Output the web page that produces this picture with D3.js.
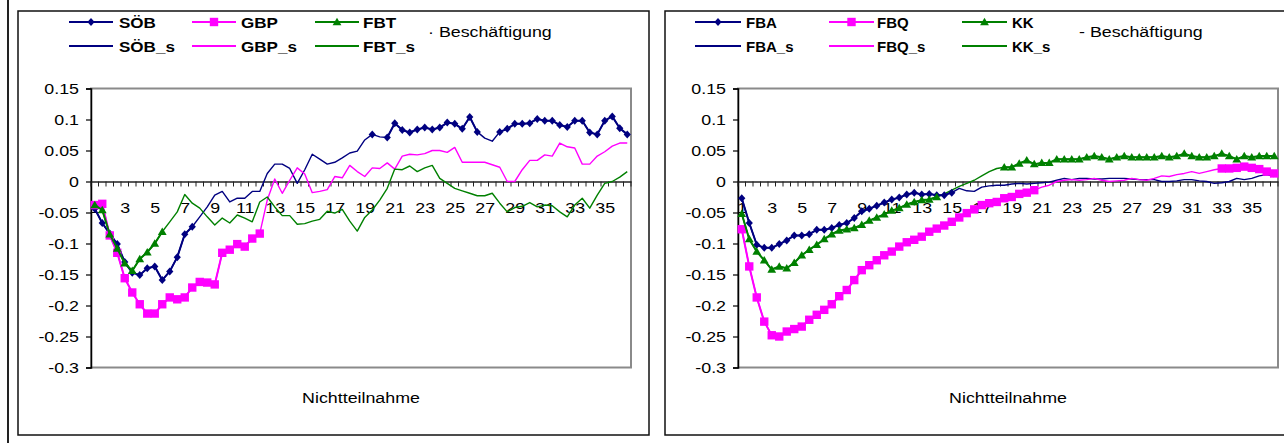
<!DOCTYPE html>
<html><head><meta charset="utf-8">
<script src="https://cdn.jsdelivr.net/npm/d3@7"></script>
<style>
body{margin:0;background:#fff}
svg{display:block}
text{font-family:"Liberation Sans",Arial,sans-serif;fill:#000}
</style></head>
<body><svg id="c" width="1284" height="443"></svg>
<script>
// ---------- data ----------
const categories = [1,1.5,2,2.5,3,3.5,4,4.5,5,5.5,6,6.5,7,7.5,8,8.5,9,9.5,10,10.5,11,11.5,12,12.5,13,13.5,14,14.5,15,15.5,16,16.5,17,17.5,18,18.5,19,19.5,20,20.5,21,21.5,22,22.5,23,23.5,24,24.5,25,25.5,26,26.5,27,27.5,28,28.5,29,29.5,30,30.5,31,31.5,32,32.5,33,33.5,34,34.5,35,35.5,36,36.5];
const xTickLabels = [1,3,5,7,9,11,13,15,17,19,21,23,25,27,29,31,33,35];
const yTicks = [0.15,0.1,0.05,0,-0.05,-0.1,-0.15,-0.2,-0.25,-0.3];
const yTickLabels = ["0.15","0.1","0.05","0","-0.05","-0.1","-0.15","-0.2","-0.25","-0.3"];

// left chart
const SOEB_s = [-0.044,-0.067,-0.084,-0.101,-0.13,-0.147,-0.151,-0.14,-0.137,-0.159,-0.145,-0.122,-0.085,-0.073,-0.057,-0.041,-0.022,-0.016,-0.033,-0.027,-0.027,-0.016,-0.016,0.013,0.028,0.028,0.021,-0.003,0.019,0.044,0.036,0.028,0.031,0.038,0.046,0.049,0.067,0.076,0.072,0.071,0.094,0.083,0.079,0.084,0.087,0.084,0.087,0.095,0.093,0.085,0.104,0.08,0.07,0.065,0.08,0.085,0.093,0.093,0.094,0.101,0.098,0.098,0.091,0.088,0.098,0.098,0.079,0.076,0.098,0.105,0.086,0.076];
const SOEB = [-0.044,-0.067,-0.084,-0.101,-0.13,-0.147,-0.151,-0.14,-0.137,-0.159,-0.145,-0.122,-0.085,-0.073,null,null,null,null,null,null,null,null,null,null,null,null,null,null,null,null,null,null,null,null,null,null,null,0.076,null,0.071,0.094,0.083,0.079,0.084,0.087,0.084,0.087,0.095,0.093,0.085,0.104,0.08,null,null,0.08,0.085,0.093,0.093,0.094,0.101,0.098,0.098,0.091,0.088,0.098,0.098,0.079,0.076,0.098,0.105,0.086,0.076];
const GBP_s = [-0.038,-0.036,-0.087,-0.115,-0.156,-0.179,-0.198,-0.213,-0.213,-0.198,-0.187,-0.19,-0.187,-0.171,-0.162,-0.163,-0.166,-0.115,-0.11,-0.101,-0.105,-0.092,-0.084,-0.03,0.004,-0.019,0.002,0.022,0.012,-0.018,-0.016,-0.013,0.008,0.006,0.026,0.016,0.008,0.022,0.021,0.03,0.02,0.041,0.044,0.043,0.045,0.05,0.05,0.047,0.055,0.031,0.031,0.031,0.031,0.027,0.023,0.0,0.0,0.019,0.034,0.034,0.043,0.041,0.062,0.056,0.054,0.028,0.028,0.041,0.048,0.057,0.062,0.062];
const GBP = [-0.038,-0.036,-0.087,-0.115,-0.156,-0.179,-0.198,-0.213,-0.213,-0.198,-0.187,-0.19,-0.187,-0.171,-0.162,-0.163,-0.166,-0.115,-0.11,-0.101,-0.105,-0.092,-0.084,null,null,null,null,null,null,null,null,null,null,null,null,null,null,null,null,null,null,null,null,null,null,null,null,null,null,null,null,null,null,null,null,null,null,null,null,null,null,null,null,null,null,null,null,null,null,null,null,null];
const FBT_s = [-0.038,-0.046,-0.085,-0.108,-0.132,-0.144,-0.125,-0.114,-0.1,-0.081,-0.065,-0.049,-0.021,-0.035,-0.043,-0.057,-0.07,-0.059,-0.067,-0.054,-0.059,-0.065,-0.033,-0.025,-0.041,-0.055,-0.055,-0.069,-0.068,-0.064,-0.061,-0.048,-0.051,-0.045,-0.064,-0.08,-0.058,-0.046,-0.03,-0.011,0.02,0.019,0.025,0.016,0.022,0.026,0.005,-0.003,-0.011,-0.015,-0.019,-0.023,-0.023,-0.019,-0.035,-0.049,-0.042,-0.04,-0.034,-0.041,-0.038,-0.039,-0.049,-0.057,-0.038,-0.027,-0.043,-0.022,-0.003,0.0,0.007,0.016];
const FBT = [-0.038,-0.046,-0.085,-0.108,-0.132,-0.144,-0.125,-0.114,-0.1,-0.081,null,null,null,null,null,null,null,null,null,null,null,null,null,null,null,null,null,null,null,null,null,null,null,null,null,null,null,null,null,null,null,null,null,null,null,null,null,null,null,null,null,null,null,null,null,null,null,null,null,null,null,null,null,null,null,null,null,null,null,null,null,null];

// right chart
const FBA_s = [-0.027,-0.067,-0.102,-0.107,-0.107,-0.101,-0.095,-0.087,-0.087,-0.085,-0.078,-0.078,-0.075,-0.07,-0.067,-0.059,-0.048,-0.044,-0.039,-0.034,-0.029,-0.026,-0.021,-0.018,-0.021,-0.02,-0.022,-0.022,-0.018,-0.011,-0.015,-0.016,-0.009,-0.007,-0.006,-0.006,-0.004,-0.003,-0.004,-0.003,-0.002,-0.001,0.002,0.005,0.003,0.005,0.005,0.004,0.004,0.005,0.005,0.005,0.004,0.003,0.003,0.003,0.0,0.0,0.001,0.003,0.003,0.001,0.0,-0.003,-0.002,0.0,0.005,0.003,0.005,0.009,0.011,0.008];
const FBA = [-0.027,-0.067,-0.102,-0.107,-0.107,-0.101,-0.095,-0.087,-0.087,-0.085,-0.078,-0.078,-0.075,-0.07,-0.067,-0.059,-0.048,-0.044,-0.039,-0.034,-0.029,-0.026,-0.021,-0.018,-0.021,-0.02,-0.022,-0.022,-0.018,null,null,null,null,null,null,null,null,null,null,null,null,null,null,null,null,null,null,null,null,null,null,null,null,null,null,null,null,null,null,null,null,null,null,null,null,null,null,null,null,null,null,null];
const FBQ_s = [-0.077,-0.137,-0.187,-0.226,-0.248,-0.25,-0.242,-0.238,-0.234,-0.223,-0.215,-0.207,-0.198,-0.185,-0.175,-0.159,-0.143,-0.135,-0.127,-0.119,-0.113,-0.105,-0.098,-0.094,-0.089,-0.081,-0.076,-0.071,-0.065,-0.058,-0.051,-0.045,-0.038,-0.035,-0.033,-0.027,-0.025,-0.02,-0.018,-0.014,-0.009,-0.006,0.0,0.002,0.003,0.002,0.003,0.005,0.002,0.0,0.001,0.002,0.005,0.003,0.002,0.005,0.009,0.008,0.011,0.013,0.016,0.013,0.016,0.019,0.021,0.021,0.022,0.024,0.022,0.02,0.016,0.013];
const FBQ = [-0.077,-0.137,-0.187,-0.226,-0.248,-0.25,-0.242,-0.238,-0.234,-0.223,-0.215,-0.207,-0.198,-0.185,-0.175,-0.159,-0.143,-0.135,-0.127,-0.119,-0.113,-0.105,-0.098,-0.094,-0.089,-0.081,-0.076,-0.071,-0.065,-0.058,-0.051,-0.045,-0.038,-0.035,-0.033,-0.027,-0.025,-0.02,-0.018,-0.014,null,null,null,null,null,null,null,null,null,null,null,null,null,null,null,null,null,null,null,null,null,null,null,null,0.021,0.021,0.022,0.024,0.022,0.02,0.016,0.013];
const KK_s = [-0.052,-0.093,-0.113,-0.127,-0.142,-0.137,-0.14,-0.131,-0.119,-0.11,-0.102,-0.093,-0.085,-0.079,-0.077,-0.075,-0.07,-0.063,-0.058,-0.053,-0.047,-0.043,-0.037,-0.033,-0.03,-0.029,-0.025,-0.02,-0.014,-0.008,-0.003,0.002,0.009,0.016,0.021,0.023,0.023,0.029,0.034,0.028,0.03,0.03,0.036,0.036,0.036,0.036,0.039,0.041,0.039,0.036,0.039,0.041,0.039,0.039,0.039,0.039,0.041,0.039,0.041,0.045,0.041,0.039,0.039,0.041,0.045,0.041,0.036,0.041,0.039,0.041,0.041,0.041];
const KK = [-0.052,-0.093,-0.113,-0.127,-0.142,-0.137,-0.14,-0.131,-0.119,-0.11,-0.102,-0.093,-0.085,-0.079,-0.077,-0.075,-0.07,-0.063,-0.058,-0.053,-0.047,-0.043,-0.037,-0.033,-0.03,-0.029,-0.025,null,null,null,null,null,null,null,null,0.023,0.023,0.029,0.034,0.028,0.03,0.03,0.036,0.036,0.036,0.036,0.039,0.041,0.039,0.036,0.039,0.041,0.039,0.039,0.039,0.039,0.041,0.039,0.041,0.045,0.041,0.039,0.039,0.041,0.045,0.041,0.036,0.041,0.039,0.041,0.041,0.041];

const NAVY="#000080", MAG="#FF00FF", GRN="#008000";
const SX = 1.15, FS = 15.5;

const svg = d3.select("#c");

function txt(g, x, y, s, anchor, weight, sx){
  return g.append("text").attr("transform",`translate(${x},${y}) scale(${sx||SX},1)`)
    .attr("text-anchor",anchor||"start").attr("font-size",FS).attr("font-weight",weight||"normal").text(s);
}
const markerPath = {
  diamond: "M0,-4L3.6,0L0,4L-3.6,0Z",
  square: "M-4.2,-4.2H4.2V4.2H-4.2Z",
  triangle: "M0,-4.3L4.4,3.2L-4.4,3.2Z"
};

// page frame line
svg.append("line").attr("x1",8).attr("x2",8).attr("y1",0).attr("y2",443).attr("stroke","#222").attr("stroke-width",2);

function chart(cfg){
  const g = svg.append("g");
  g.append("rect").attr("x",cfg.box[0]).attr("y",11).attr("width",cfg.box[1]-cfg.box[0]).attr("height",435-11)
    .attr("fill","none").attr("stroke","#111").attr("stroke-width",1.5);
  const x0 = cfg.px, top = 88.5, bottom = 367.5, W = 540;
  const x = d3.scalePoint().domain(categories).range([x0, x0+W]).padding(0.5);
  const y = d3.scaleLinear().domain([-0.3,0.15]).range([bottom, top]);
  g.append("rect").attr("x",x0).attr("y",top).attr("width",W).attr("height",bottom-top)
    .attr("fill","none").attr("stroke","#8a8a8a").attr("stroke-width",2);
  const ya = g.append("g").attr("transform",`translate(${x0},0)`)
    .call(d3.axisLeft(y).tickValues(yTicks).tickSize(5).tickFormat((d,i)=>yTickLabels[i]));
  ya.select(".domain").attr("stroke","#000").attr("stroke-width",1.5);
  ya.selectAll(".tick line").attr("stroke","#000").attr("stroke-width",1.2);
  ya.selectAll(".tick text").attr("font-family",null).attr("font-size",FS).attr("fill","#000")
    .attr("x",-12/SX).attr("dy","0.34em").attr("transform",`scale(${SX},1)`);
  const y0 = y(0);
  const xa = g.append("g").attr("transform",`translate(0,${y0})`)
    .call(d3.axisBottom(x).tickValues(xTickLabels).tickSize(0).tickFormat(d=>String(d)));
  xa.select(".domain").attr("stroke","#222").attr("stroke-width",1.5);
  xa.selectAll(".tick text").attr("font-family",null).attr("font-size",FS).attr("fill","#000")
    .attr("dy",null).attr("y",0).attr("transform",`translate(0,31.2) scale(${SX},1)`);
  const bounds = categories.map(c => x(c) - x.step()/2).concat([x0+W]);
  g.append("g").selectAll("line").data(bounds).join("line")
    .attr("x1",d=>d).attr("x2",d=>d).attr("y1",y0).attr("y2",y0+5)
    .attr("stroke","#222").attr("stroke-width",1);
  const line = d3.line().defined(d=>d!=null).x((d,i)=>x(categories[i])).y(d=>y(d));
  cfg.series.forEach(s=>{
    g.append("path").datum(s.thin).attr("d",line).attr("fill","none")
      .attr("stroke",s.color).attr("stroke-width",1.4).attr("stroke-linejoin","round");
  });
  cfg.series.forEach(s=>{
    g.append("path").datum(s.marked).attr("d",line).attr("fill","none")
      .attr("stroke",s.color).attr("stroke-width",2).attr("stroke-linejoin","round");
    g.append("g").selectAll("path").data(s.marked.map((v,i)=>[i,v]).filter(d=>d[1]!=null)).join("path")
      .attr("d",markerPath[s.marker]).attr("fill",s.color)
      .attr("transform",d=>`translate(${x(categories[d[0]])},${y(d[1])})`);
  });
  txt(g, x0+W/2, 403.3, "Nichtteilnahme", "middle");
  cfg.legend.forEach(l=>{
    const lg = g.append("g");
    lg.append("line").attr("x1",l.x1).attr("x2",l.x2).attr("y1",l.y).attr("y2",l.y)
      .attr("stroke",l.color).attr("stroke-width",2);
    if(l.marker) lg.append("path").attr("d",markerPath[l.marker]).attr("fill",l.color)
      .attr("transform",`translate(${(l.x1+l.x2)/2},${l.y})`);
    txt(lg, l.tx, l.y+5.5, l.label, "start", "bold", cfg.legendSX);
  });
  txt(g, cfg.besch[0], cfg.besch[1], cfg.besch[2], "start", "normal");
}

const R1 = 22, R2 = 46;
chart({
  box:[18,649], px:91,
  series:[
    {thin:SOEB_s, marked:SOEB, color:NAVY, marker:"diamond"},
    {thin:GBP_s, marked:GBP, color:MAG, marker:"square"},
    {thin:FBT_s, marked:FBT, color:GRN, marker:"triangle"}
  ],
  legendSX:1.1,
  legend:[
    {x1:69,x2:113,y:R1,color:NAVY,marker:"diamond",tx:119,label:"SÖB"},
    {x1:192,x2:236,y:R1,color:MAG,marker:"square",tx:241,label:"GBP"},
    {x1:315,x2:359,y:R1,color:GRN,marker:"triangle",tx:363,label:"FBT"},
    {x1:69,x2:113,y:R2,color:NAVY,tx:119,label:"SÖB_s"},
    {x1:192,x2:236,y:R2,color:MAG,tx:241,label:"GBP_s"},
    {x1:315,x2:359,y:R2,color:GRN,tx:363,label:"FBT_s"}
  ],
  besch:[428,37,"· Beschäftigung"]
});
chart({
  box:[665,1300], px:738,
  series:[
    {thin:FBA_s, marked:FBA, color:NAVY, marker:"diamond"},
    {thin:FBQ_s, marked:FBQ, color:MAG, marker:"square"},
    {thin:KK_s, marked:KK, color:GRN, marker:"triangle"}
  ],
  legendSX:0.97,
  legend:[
    {x1:695,x2:741,y:R1,color:NAVY,marker:"diamond",tx:746,label:"FBA"},
    {x1:829,x2:874,y:R1,color:MAG,marker:"square",tx:877,label:"FBQ"},
    {x1:962,x2:1007,y:R1,color:GRN,marker:"triangle",tx:1012,label:"KK"},
    {x1:695,x2:741,y:R2,color:NAVY,tx:746,label:"FBA_s"},
    {x1:829,x2:874,y:R2,color:MAG,tx:877,label:"FBQ_s"},
    {x1:962,x2:1007,y:R2,color:GRN,tx:1012,label:"KK_s"}
  ],
  besch:[1079,37,"- Beschäftigung"]
});
</script></body></html>
